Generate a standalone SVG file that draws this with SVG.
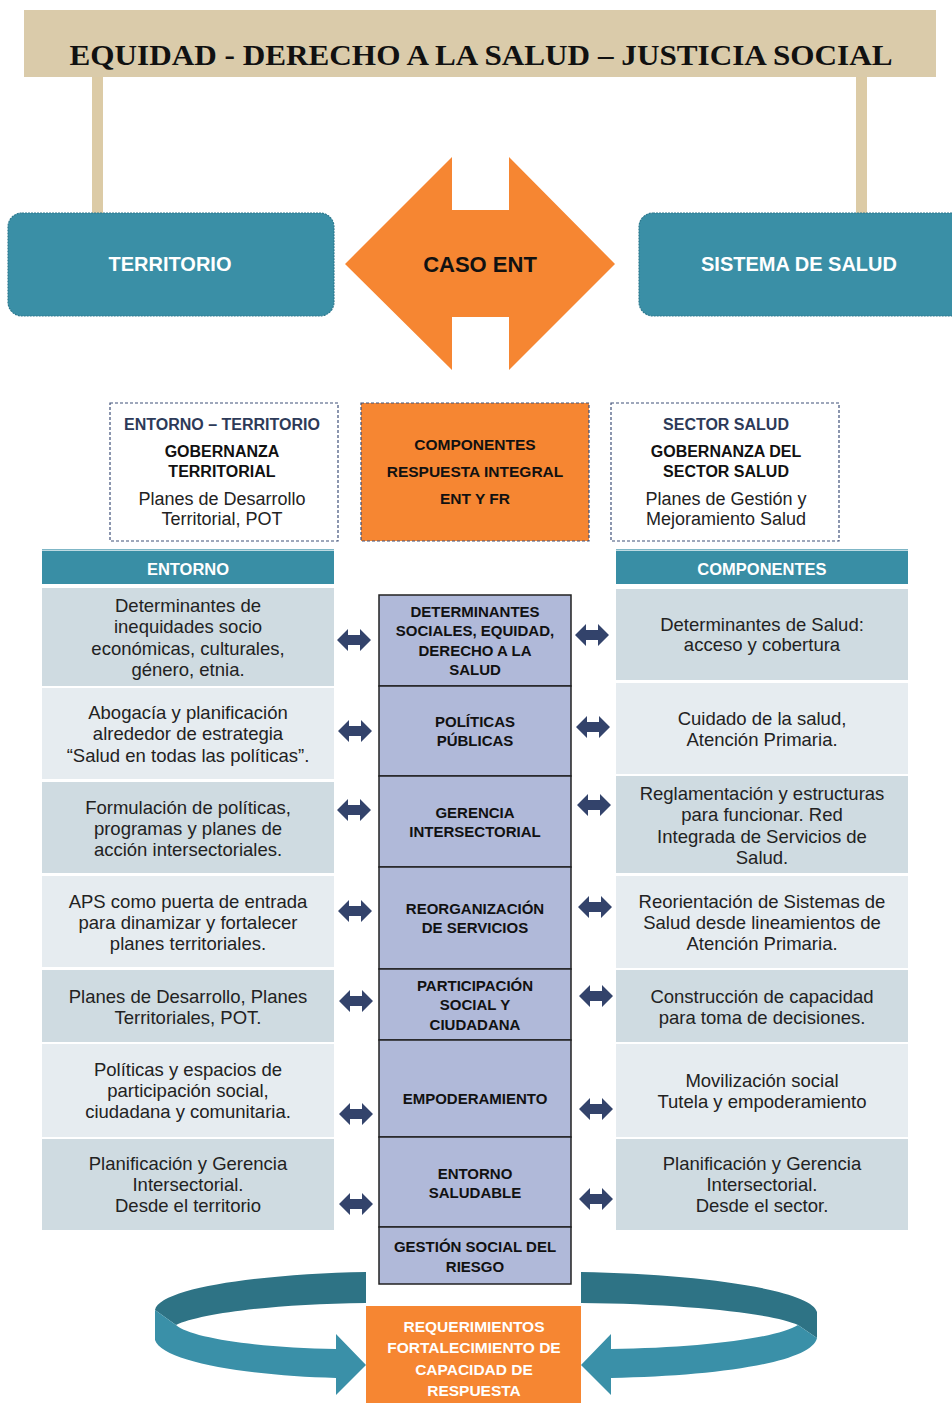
<svg xmlns="http://www.w3.org/2000/svg" width="952" height="1403" viewBox="0 0 952 1403">
<style>
text{font-family:"Liberation Sans",Arial,sans-serif;text-anchor:middle}
.title{font-family:"Liberation Serif","Times New Roman",serif;font-weight:bold;font-size:30px;fill:#111}
.big{font-weight:bold;font-size:20px;fill:#fff}
.hdr{font-weight:bold;font-size:16.5px;fill:#fff}
.bx{font-weight:bold;font-size:16px;fill:#111}
.bxh{font-weight:bold;font-size:16px;fill:#2d3a58}
.bxt{font-size:18px;fill:#222}
.body{font-size:18.5px;fill:#222}
.mid{font-weight:bold;font-size:15px;fill:#111}
.org{font-weight:bold;font-size:15.5px;fill:#111}
.req{font-weight:bold;font-size:15.5px;fill:#fff}
.dark{fill:#cfdbe1}
.light{fill:#e6ecf0}
.cell{fill:#b0b9d9;stroke:#222;stroke-width:1.5}
.dash{stroke:#3f5079;stroke-width:1.2;stroke-dasharray:3 2}
.arr{fill:#33436b}
</style>
<defs>
<path id="dbl" d="M-17,0 L-6,-11 L-6,-5 L6,-5 L6,-11 L17,0 L6,11 L6,5 L-6,5 L-6,11 Z"/>
</defs>

<g id="title">
<rect x="92" y="70" width="11" height="145" fill="#dccba6"/>
<rect x="856" y="70" width="11" height="145" fill="#dccba6"/>
<rect x="24" y="10" width="912" height="67" fill="#dacbaa"/>
<text class="title" x="481" y="65" textLength="823" lengthAdjust="spacingAndGlyphs">EQUIDAD  - DERECHO A LA SALUD – JUSTICIA SOCIAL</text>
</g>

<g id="territorio">
<rect x="8" y="213" width="326" height="103" rx="14" fill="#3a8fa6" stroke="#2e7a8f" stroke-width="1.2" stroke-dasharray="2 1"/>
<text class="big" x="170" y="271">TERRITORIO</text>
</g>

<g id="sistema">
<rect x="639" y="213" width="330" height="103" rx="14" fill="#3a8fa6" stroke="#2e7a8f" stroke-width="1.2" stroke-dasharray="2 1"/>
<text class="big" x="799" y="271">SISTEMA DE SALUD</text>
</g>

<g id="caso">
<polygon points="345,264 452,157 452,210 509,210 509,157 615,264 509,370 509,317 452,317 452,370" fill="#f68632"/>
<text x="480" y="272" style="font-weight:bold;font-size:22px;fill:#111">CASO ENT</text>
</g>

<g id="entorno-territorio">
<rect x="110" y="403" width="228" height="138" fill="#fff" class="dash"/>
<text class="bxh" x="222" y="430">ENTORNO – TERRITORIO</text>
<text class="bx" x="222" y="457">GOBERNANZA</text>
<text class="bx" x="222" y="477">TERRITORIAL</text>
<text class="bxt" x="222" y="505">Planes de Desarrollo</text>
<text class="bxt" x="222" y="525">Territorial, POT</text>
</g>

<g id="componentes-respuesta">
<rect x="361" y="403" width="228" height="138" fill="#f68632" class="dash"/>
<text class="org" x="475" y="450">COMPONENTES</text>
<text class="org" x="475" y="477">RESPUESTA INTEGRAL</text>
<text class="org" x="475" y="504">ENT Y FR</text>
</g>

<g id="sector-salud">
<rect x="611" y="403" width="228" height="138" fill="#fff" class="dash"/>
<text class="bxh" x="726" y="430">SECTOR SALUD</text>
<text class="bx" x="726" y="457">GOBERNANZA DEL</text>
<text class="bx" x="726" y="477">SECTOR SALUD</text>
<text class="bxt" x="726" y="505">Planes de Gestión y</text>
<text class="bxt" x="726" y="525">Mejoramiento Salud</text>
</g>

<g id="col-entorno">
<rect x="42" y="549" width="292" height="1.5" fill="#7fb6c6"/>
<rect x="42" y="551" width="292" height="33" fill="#398ea5"/>
<text class="hdr" x="188" y="575">ENTORNO</text>
<rect class="dark" x="42" y="588" width="292" height="98"/>
<text class="body" x="188" y="612">Determinantes de</text>
<text class="body" x="188" y="633">inequidades socio</text>
<text class="body" x="188" y="655">económicas, culturales,</text>
<text class="body" x="188" y="676">género, etnia.</text>
<rect class="light" x="42" y="688" width="292" height="91"/>
<text class="body" x="188" y="719">Abogacía y planificación</text>
<text class="body" x="188" y="740">alrededor de estrategia</text>
<text class="body" x="188" y="762">“Salud en todas las políticas”.</text>
<rect class="dark" x="42" y="782" width="292" height="91"/>
<text class="body" x="188" y="814">Formulación de políticas,</text>
<text class="body" x="188" y="835">programas y planes de</text>
<text class="body" x="188" y="856">acción intersectoriales.</text>
<rect class="light" x="42" y="876" width="292" height="91"/>
<text class="body" x="188" y="908">APS como puerta de entrada</text>
<text class="body" x="188" y="929">para dinamizar y fortalecer</text>
<text class="body" x="188" y="950">planes territoriales.</text>
<rect class="dark" x="42" y="970" width="292" height="72"/>
<text class="body" x="188" y="1003">Planes de Desarrollo, Planes</text>
<text class="body" x="188" y="1024">Territoriales, POT.</text>
<rect class="light" x="42" y="1044" width="292" height="93"/>
<text class="body" x="188" y="1076">Políticas y espacios de</text>
<text class="body" x="188" y="1097">participación social,</text>
<text class="body" x="188" y="1118">ciudadana y comunitaria.</text>
<rect class="dark" x="42" y="1139" width="292" height="91"/>
<text class="body" x="188" y="1170">Planificación y Gerencia</text>
<text class="body" x="188" y="1191">Intersectorial.</text>
<text class="body" x="188" y="1212">Desde el territorio</text>
</g>

<g id="col-componentes">
<rect x="616" y="549" width="292" height="1.5" fill="#7fb6c6"/>
<rect x="616" y="551" width="292" height="33" fill="#398ea5"/>
<text class="hdr" x="762" y="575">COMPONENTES</text>
<rect class="dark" x="616" y="589" width="292" height="91"/>
<text class="body" x="762" y="631">Determinantes de Salud:</text>
<text class="body" x="762" y="651">acceso y cobertura</text>
<rect class="light" x="616" y="683" width="292" height="91"/>
<text class="body" x="762" y="725">Cuidado de la salud,</text>
<text class="body" x="762" y="746">Atención Primaria.</text>
<rect class="dark" x="616" y="776" width="292" height="97"/>
<text class="body" x="762" y="800">Reglamentación y estructuras</text>
<text class="body" x="762" y="821">para funcionar. Red</text>
<text class="body" x="762" y="843">Integrada de Servicios de</text>
<text class="body" x="762" y="864">Salud.</text>
<rect class="light" x="616" y="876" width="292" height="92"/>
<text class="body" x="762" y="908">Reorientación de Sistemas de</text>
<text class="body" x="762" y="929">Salud desde lineamientos de</text>
<text class="body" x="762" y="950">Atención Primaria.</text>
<rect class="dark" x="616" y="970" width="292" height="72"/>
<text class="body" x="762" y="1003">Construcción de capacidad</text>
<text class="body" x="762" y="1024">para toma de decisiones.</text>
<rect class="light" x="616" y="1044" width="292" height="93"/>
<text class="body" x="762" y="1087">Movilización social</text>
<text class="body" x="762" y="1108">Tutela y empoderamiento</text>
<rect class="dark" x="616" y="1139" width="292" height="91"/>
<text class="body" x="762" y="1170">Planificación y Gerencia</text>
<text class="body" x="762" y="1191">Intersectorial.</text>
<text class="body" x="762" y="1212">Desde el sector.</text>
</g>

<g id="col-centro">
<rect class="cell" x="379" y="595" width="192" height="91"/>
<text class="mid" x="475" y="617">DETERMINANTES</text>
<text class="mid" x="475" y="636">SOCIALES, EQUIDAD,</text>
<text class="mid" x="475" y="656">DERECHO A LA</text>
<text class="mid" x="475" y="675">SALUD</text>
<rect class="cell" x="379" y="686" width="192" height="90"/>
<text class="mid" x="475" y="727">POLÍTICAS</text>
<text class="mid" x="475" y="746">PÚBLICAS</text>
<rect class="cell" x="379" y="776" width="192" height="91"/>
<text class="mid" x="475" y="818">GERENCIA</text>
<text class="mid" x="475" y="837">INTERSECTORIAL</text>
<rect class="cell" x="379" y="867" width="192" height="102"/>
<text class="mid" x="475" y="914">REORGANIZACIÓN</text>
<text class="mid" x="475" y="933">DE SERVICIOS</text>
<rect class="cell" x="379" y="969" width="192" height="71"/>
<text class="mid" x="475" y="991">PARTICIPACIÓN</text>
<text class="mid" x="475" y="1010">SOCIAL Y</text>
<text class="mid" x="475" y="1030">CIUDADANA</text>
<rect class="cell" x="379" y="1040" width="192" height="97"/>
<text class="mid" x="475" y="1104">EMPODERAMIENTO</text>
<rect class="cell" x="379" y="1137" width="192" height="90"/>
<text class="mid" x="475" y="1179">ENTORNO</text>
<text class="mid" x="475" y="1198">SALUDABLE</text>
<rect class="cell" x="379" y="1227" width="192" height="57"/>
<text class="mid" x="475" y="1252">GESTIÓN SOCIAL DEL</text>
<text class="mid" x="475" y="1272">RIESGO</text>
</g>

<g id="connectors">
<use href="#dbl" class="arr" x="354" y="640"/>
<use href="#dbl" class="arr" x="355" y="731"/>
<use href="#dbl" class="arr" x="354" y="810"/>
<use href="#dbl" class="arr" x="355" y="911"/>
<use href="#dbl" class="arr" x="356" y="1001"/>
<use href="#dbl" class="arr" x="356" y="1114"/>
<use href="#dbl" class="arr" x="356" y="1204"/>
<use href="#dbl" class="arr" x="592" y="635"/>
<use href="#dbl" class="arr" x="593" y="727"/>
<use href="#dbl" class="arr" x="594" y="805"/>
<use href="#dbl" class="arr" x="595" y="907"/>
<use href="#dbl" class="arr" x="596" y="996"/>
<use href="#dbl" class="arr" x="596" y="1109"/>
<use href="#dbl" class="arr" x="596" y="1199"/>
</g>

<g id="ciclo">
<path d="M366,1272 C260,1274 160,1288 155,1310 L176,1325 C200,1314 270,1304 366,1303 Z" fill="#2e7385"/>
<path d="M155,1310 L155,1340 C162,1362 250,1376 336,1378 L336,1395 L366,1365 L336,1334 L336,1349 C260,1348 190,1338 176,1325 Z" fill="#3a90a8"/>
<path d="M581,1272 C700,1274 812,1290 817,1312 L817,1338 L798,1325 C775,1314 690,1304 581,1303 Z" fill="#2e7385"/>
<path d="M817,1338 C812,1362 720,1376 611,1378 L611,1395 L581,1365 L611,1334 L611,1349 C700,1348 778,1338 798,1325 Z" fill="#3a90a8"/>
</g>

<g id="requerimientos">
<rect x="366" y="1306" width="215" height="97" fill="#f68632"/>
<text class="req" x="474" y="1332">REQUERIMIENTOS</text>
<text class="req" x="474" y="1353">FORTALECIMIENTO DE</text>
<text class="req" x="474" y="1375">CAPACIDAD DE</text>
<text class="req" x="474" y="1396">RESPUESTA</text>
</g>
</svg>
